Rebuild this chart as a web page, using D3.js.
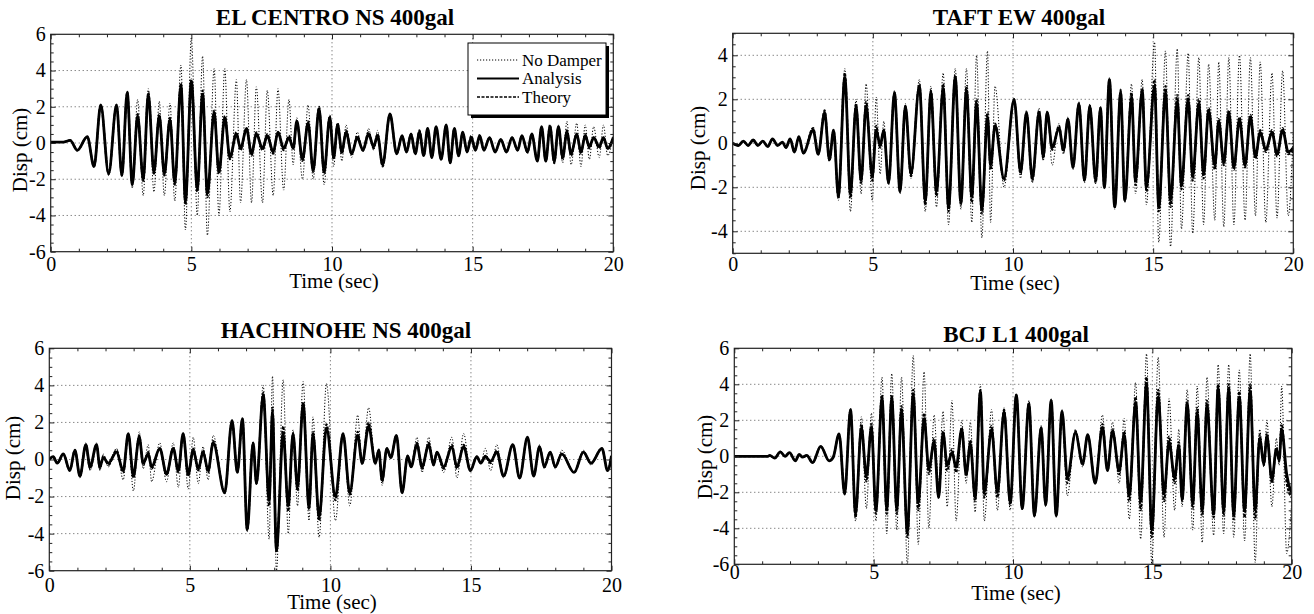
<!DOCTYPE html>
<html>
<head>
<meta charset="utf-8">
<script src="https://cdn.jsdelivr.net/npm/d3@7"></script>
<style>
  body { margin: 0; background: #fff; }
  svg text { font-family: "Liberation Serif", "Times New Roman", serif; fill: #000; }
</style>
</head>
<body>
<svg id="chart" width="1314" height="614"></svg>
<script>
// ---------- shared tick labels ----------
const timeTicks = [0, 5, 10, 15, 20];
const dispTicks6 = [-6, -4, -2, 0, 2, 4, 6];
const dispTicks5 = [-4, -2, 0, 2, 4];
const seriesNames = ["No Damper", "Analysis", "Theory"];

// ---------- EL CENTRO NS 400gal (response peaks, sec / cm) ----------
const elTime = [0,0.45,0.69,0.95,1.3,1.54,1.78,2.06,2.34,2.53, 2.72,2.9,3.09,3.29,3.47,3.67,3.86,4.04,4.24,4.41, 4.63,4.79,5.0,5.21,5.4,5.57,5.81,5.98,6.19,6.37, 6.6,6.75,6.96,7.14,7.31,7.53,7.7,7.91,8.08,8.28, 8.47,8.62,8.75,8.95,9.15,9.33,9.54,9.72,9.92,10.06, 10.2,10.35,10.5,10.7,10.9,11.1,11.3,11.48,11.62,11.8, 12.06,12.3,12.49,12.65,12.81,12.96,13.11,13.26,13.4,13.55, 13.7,13.88,14.06,14.2,14.35,14.5,14.65,14.8,14.95,15.1, 15.25,15.4,15.6,15.8,16.0,16.2,16.4,16.6,16.75,16.95, 17.1,17.3,17.45,17.6,17.75,17.9,18.05,18.2,18.35,18.5, 18.7,18.85,19.0,19.15,19.3,19.5,19.65,19.8,20.0];
const elNoDamper = [0.05,0.05,0.15,-0.4,0.35,-1.3,2.1,-1.8,2.1,-1.8, 2.8,-2.5,2.4,-2.9,3.0,-2.7,2.3,-2.9,2.2,-3.2, 4.3,-4.8,5.8,-4.0,4.8,-5.1,4.1,-4.0,4.1,-3.8, 3.5,-3.3,3.5,-3.3,3.1,-3.3,2.9,-2.9,3.0,-2.6, 2.4,-1.2,1.4,-2.0,2.1,-2.0,1.8,-2.3,1.5,-1.3, 1.1,-1.0,1.0,-0.8,0.6,-0.5,0.8,-0.4,0.7,-1.2, 1.6,-0.6,0.4,-0.5,0.5,-0.6,0.7,-0.7,0.8,-0.8, 0.9,-0.9,1.0,-1.1,0.8,-0.8,0.6,-0.5,0.4,-0.4, 0.5,-0.4,0.3,-0.4,0.2,-0.4,0.3,-0.4,0.4,-0.6, 0.5,-1.0,0.9,-1.0,1.0,-1.2,1.0,-1.1,1.2,-1.2, 1.1,-1.3,1.0,-0.9,0.9,-0.8,1.0,-0.7,0.5];
const elAnalysis = [0.05,0.05,0.15,-0.4,0.35,-1.3,2.1,-1.7,2.1,-1.8, 2.8,-2.3,1.5,-2.0,2.7,-1.6,1.5,-1.7,1.3,-2.2, 3.2,-3.2,3.4,-2.5,2.7,-2.8,1.7,-1.6,1.4,-0.8, 0.5,-0.3,0.8,-0.6,0.5,-0.3,0.4,-0.5,0.6,-0.3, 0.3,-0.3,1.2,-0.9,1.1,-1.5,1.9,-1.6,1.4,-0.8, 1.0,-0.5,0.6,-0.6,0.3,-0.4,0.5,-0.2,0.4,-1.2, 1.6,-0.6,0.4,-0.5,0.5,-0.6,0.6,-0.7,0.8,-0.8, 0.9,-0.9,1.0,-1.1,0.8,-0.7,0.6,-0.5,0.3,-0.4, 0.4,-0.4,0.3,-0.5,0.2,-0.5,0.3,-0.4,0.4,-0.5, 0.5,-1.0,0.9,-1.0,0.9,-1.0,0.9,-0.8,0.6,-0.6, 0.5,-0.5,0.4,-0.2,0.3,-0.2,0.3,-0.3,0.3];
const elTheory = [0.05,0.05,0.15,-0.4,0.35,-1.3,2.1,-1.7,2.1,-1.8, 2.8,-2.3,1.6,-2.1,2.8,-1.7,1.6,-1.8,1.4,-2.3, 3.3,-3.4,3.5,-2.7,2.9,-3.0,1.8,-1.7,1.5,-0.9, 0.6,-0.4,0.8,-0.7,0.6,-0.4,0.5,-0.6,0.6,-0.4, 0.4,-0.3,1.2,-1.0,1.2,-1.6,2.0,-1.7,1.5,-0.9, 1.1,-0.6,0.7,-0.6,0.4,-0.4,0.6,-0.3,0.5,-1.3, 1.6,-0.6,0.4,-0.5,0.5,-0.6,0.7,-0.7,0.8,-0.8, 0.9,-0.9,1.0,-1.1,0.8,-0.7,0.6,-0.5,0.4,-0.4, 0.4,-0.4,0.3,-0.5,0.2,-0.5,0.3,-0.4,0.4,-0.5, 0.5,-1.0,0.9,-1.0,1.0,-1.1,0.9,-0.9,0.7,-0.7, 0.5,-0.6,0.5,-0.3,0.3,-0.3,0.3,-0.3,0.3];

// ---------- TAFT EW 400gal ----------
const taftTime = [0,0.2,0.38,0.55,0.73,0.9,1.07,1.25,1.42,1.6, 1.78,1.9,2.05,2.2,2.36,2.52,2.87,3.05,3.28,3.45, 3.6,3.77,4.0,4.2,4.4,4.58,4.76,4.98,5.12,5.26, 5.39,5.56,5.77,5.97,6.16,6.36,6.66,6.87,7.07,7.27, 7.51,7.7,7.94,8.14,8.34,8.53,8.7,8.89,9.09,9.2, 9.36,9.68,10.04,10.27,10.48,10.69,10.93,11.08,11.22,11.4, 11.64,11.8,11.96,12.14,12.35,12.55,12.74,12.95,13.12,13.26, 13.44,13.63,13.84,13.99,14.23,14.37,14.61,14.76,15.05,15.2, 15.44,15.62,15.86,16.01,16.25,16.41,16.63,16.8,16.98,17.2, 17.34,17.52,17.7,17.88,18.08,18.28,18.47,18.65,18.82,19.02, 19.24,19.42,19.62,19.82,20.0];
const taftNoDamper = [0,-0.1,0.1,-0.1,0.15,-0.1,0.1,-0.15,0.2,-0.1, 0.05,-0.2,0.2,-0.4,0.3,-0.45,0.7,-0.5,1.4,-0.8, 0.6,-2.6,3.4,-3.1,2.0,-2.3,2.7,-2.6,2.1,-1.4, 1.0,-1.9,2.4,-2.3,1.8,-1.6,2.9,-3.1,2.6,-2.9, 3.2,-3.7,3.4,-3.0,3.4,-3.6,4.0,-4.3,4.2,-3.6, 2.6,-2.0,2.0,-1.6,1.5,-1.8,1.6,-0.8,1.5,-1.0, 0.9,-0.5,1.2,-1.2,1.9,-1.8,1.8,-1.8,1.7,-2.1, 3.0,-3.0,2.5,-2.7,2.7,-2.3,2.9,-2.8,4.6,-4.5, 4.2,-4.7,4.3,-3.9,4.1,-4.1,3.9,-3.7,3.6,-3.5, 3.7,-3.8,3.9,-3.7,4.0,-3.5,3.9,-3.3,3.7,-3.6, 3.2,-3.4,3.3,-3.3,0.5];
const taftAnalysis = [0,-0.1,0.1,-0.1,0.15,-0.1,0.1,-0.15,0.2,-0.1, 0.05,-0.2,0.2,-0.4,0.3,-0.45,0.6,-0.5,1.4,-0.75, 0.6,-2.4,3.0,-2.3,1.7,-1.7,1.7,-1.5,0.6,-0.1, 0.6,-1.8,2.3,-2.2,1.7,-1.4,2.6,-2.6,2.3,-2.2, 2.5,-2.9,3.0,-2.7,2.4,-2.4,1.8,-3.0,1.2,-1.0, 0.8,-1.6,2.0,-1.3,1.4,-1.6,1.4,-0.6,1.4,-0.2, 0.7,-0.3,1.1,-1.1,1.8,-1.7,1.7,-1.7,1.6,-2.0, 2.9,-2.9,2.3,-2.6,2.1,-1.7,2.4,-2.0,2.6,-2.9, 2.3,-2.6,1.9,-1.9,2.0,-1.5,1.8,-1.4,1.5,-1.0, 1.0,-0.9,1.4,-1.1,1.1,-1.0,1.2,-0.6,0.5,-0.3, 0.5,-0.5,0.6,-0.4,-0.2];
const taftTheory = [0,-0.1,0.1,-0.1,0.15,-0.1,0.1,-0.15,0.2,-0.1, 0.05,-0.2,0.2,-0.4,0.3,-0.45,0.7,-0.5,1.5,-0.8, 0.6,-2.5,3.2,-2.5,1.8,-1.8,1.9,-1.7,0.8,-0.2, 0.6,-1.8,2.3,-2.2,1.7,-1.5,2.7,-2.8,2.4,-2.4, 2.7,-3.1,3.1,-2.8,2.6,-2.7,2.0,-3.2,1.4,-1.2, 0.9,-1.7,2.0,-1.4,1.4,-1.7,1.5,-0.7,1.4,-0.3, 0.8,-0.4,1.1,-1.1,1.8,-1.7,1.7,-1.8,1.6,-2.0, 2.9,-2.9,2.4,-2.6,2.3,-1.9,2.5,-2.2,2.9,-3.1, 2.6,-2.9,2.2,-2.1,2.2,-1.7,2.0,-1.6,1.6,-1.2, 1.1,-1.0,1.5,-1.2,1.2,-1.1,1.3,-0.7,0.6,-0.4, 0.6,-0.6,0.7,-0.5,-0.3];

// ---------- HACHINOHE NS 400gal ----------
const hachTime = [0,0.14,0.28,0.5,0.73,0.91,1.09,1.3,1.45,1.68, 1.8,1.92,2.1,2.39,2.63,2.81,2.99,3.2,3.34,3.52, 3.64,3.93,4.17,4.41,4.59,4.76,4.94,5.12,5.3,5.47, 5.65,5.83,6.24,6.5,6.69,6.87,7.04,7.25,7.37,7.61, 7.82,7.94,8.08,8.32,8.5,8.67,8.83,9.03,9.24,9.38, 9.6,9.86,10.18,10.45,10.69,10.97,11.13,11.36,11.6,11.72, 11.84,12.01,12.15,12.35,12.55,12.75,12.87,13.08,13.26,13.5, 13.67,13.79,14.03,14.32,14.5,14.74,14.98,15.21,15.35,15.51, 15.7,15.92,16.16,16.49,16.73,17.01,17.23,17.44,17.61,17.82, 18.0,18.23,18.67,19.0,19.27,19.66,19.86,20.0];
const hachNoDamper = [0,0.15,-0.25,0.3,-0.6,0.5,-1.0,0.9,-0.6,0.9, -0.6,0.3,-0.4,0.6,-1.1,1.4,-1.7,1.5,-0.5,0.8, -1.2,0.9,-1.2,0.9,-1.5,1.4,-1.6,1.2,-1.3,0.7, -1.1,1.3,-1.8,2.1,-0.7,2.2,-3.9,0.9,-1.2,4.0, -4.3,4.5,-6.0,4.3,-4.0,1.6,-2.5,4.2,-3.3,2.3, -4.2,4.1,-3.3,1.4,-2.5,2.4,-0.3,2.8,-0.3,0.6, -1.4,0.6,0.1,1.3,-1.8,0.2,-0.4,1.2,-0.7,1.2, -0.3,0.4,-0.7,1.2,-1.0,1.4,-0.6,0.2,-0.2,0.6, -0.6,0.8,-1.0,0.8,-1.0,1.2,-0.9,0.8,-0.5,0.4, -0.5,0.5,-0.7,0.5,-0.3,0.6,-0.6,0.2];
const hachAnalysis = [0,0.15,-0.2,0.3,-0.6,0.5,-0.9,0.8,-0.4,0.8, -0.4,0.1,-0.2,0.4,-0.6,1.4,-0.9,1.2,-0.2,0.3, -0.4,0.6,-0.8,0.6,-0.6,1.4,-0.8,0.5,-0.5,0.4, -0.6,0.9,-1.8,2.1,-0.7,2.2,-3.8,0.9,-1.3,3.5, -2.2,2.5,-4.9,1.4,-2.5,1.4,-1.5,3.0,-2.6,1.4, -3.1,1.7,-2.0,1.4,-1.8,1.3,-0.2,1.8,-0.2,0.5, -1.1,0.6,0.1,1.3,-1.8,0.2,-0.4,0.8,-0.4,0.8, -0.3,0.4,-0.4,0.7,-0.4,0.7,-0.6,0.15,-0.2,0.15, -0.1,0.4,-0.9,0.8,-1.0,1.2,-0.9,0.7,-0.4,0.4, -0.4,0.3,-0.7,0.4,-0.2,0.6,-0.6,0.2];
const hachTheory = [0,0.15,-0.2,0.3,-0.6,0.5,-0.9,0.8,-0.5,0.8, -0.5,0.2,-0.3,0.5,-0.7,1.4,-1.0,1.3,-0.3,0.4, -0.5,0.6,-0.8,0.6,-0.7,1.4,-0.9,0.6,-0.6,0.5, -0.7,1.0,-1.8,2.1,-0.7,2.2,-3.8,0.9,-1.3,3.6, -2.5,2.8,-5.0,1.8,-2.8,1.4,-1.7,3.1,-2.7,1.5, -3.3,1.9,-2.2,1.4,-1.9,1.5,-0.2,2.0,-0.2,0.5, -1.2,0.6,0.1,1.3,-1.8,0.2,-0.4,0.9,-0.5,0.9, -0.3,0.4,-0.5,0.8,-0.5,0.8,-0.6,0.15,-0.2,0.2, -0.2,0.5,-0.9,0.8,-1.0,1.2,-0.9,0.7,-0.4,0.4, -0.4,0.3,-0.7,0.4,-0.2,0.6,-0.6,0.2];

// ---------- BCJ L1 400gal ----------
const bcjTime = [0,1.2,1.27,1.45,1.65,1.82,1.98,2.19,2.33,2.45, 2.6,2.81,3.1,3.4,3.55,3.76,3.96,4.17,4.35,4.56, 4.74,4.92,5.08,5.3,5.47,5.65,5.83,6.0,6.21,6.42, 6.6,6.81,6.98,7.17,7.33,7.49,7.64,7.81,7.96,8.16, 8.32,8.47,8.64,8.83,8.97,9.23,9.44,9.68,9.9,10.12, 10.33,10.57,10.77,11.01,11.17,11.37,11.55,11.76,11.95,12.24, 12.5,12.68,12.95,13.21,13.39,13.57,13.81,13.99,14.17,14.4, 14.58,14.79,14.98,15.21,15.42,15.6,15.8,15.95,16.07,16.25, 16.45,16.61,16.79,16.96,17.2,17.36,17.56,17.74,17.92,18.12, 18.31,18.51,18.69,18.85,19.0,19.11,19.29,19.45,19.55,19.64, 19.82,20.0];
const bcjNoDamper = [0,0,0.05,-0.1,0.25,0,0.2,-0.25,0.1,-0.05, 0.05,-0.35,0.55,-0.25,-0.05,1.25,-2.1,2.6,-3.6,2.2, -2.9,2.4,-3.6,4.4,-4.3,4.6,-4.1,4.4,-6.0,5.6, -4.9,4.7,-4.0,2.3,-1.5,2.5,-2.8,3.1,-3.6,2.0, -1.5,1.9,-3.1,4.0,-3.6,2.6,-3.0,2.7,-3.0,3.5, -3.0,3.1,-3.4,1.7,-2.8,3.2,-3.4,2.6,-2.2,1.5, -0.6,1.2,-1.5,2.3,-0.8,1.9,-1.5,2.1,-3.5,4.1, -4.6,5.7,-6.0,5.5,-4.5,3.2,-3.0,1.5,-2.8,3.7, -4.1,3.9,-4.8,4.4,-4.4,5.1,-4.3,5.1,-4.5,4.8, -4.7,5.7,-5.9,1.5,-0.6,2.0,-2.8,1.0,-0.5,3.9, -5.4,-2.5];
const bcjAnalysis = [0,0,0.05,-0.1,0.25,0,0.2,-0.25,0.1,-0.05, 0.05,-0.35,0.55,-0.25,-0.05,1.25,-2.1,2.6,-3.2,1.6, -1.1,1.6,-3.0,3.2,-2.9,3.2,-2.9,2.5,-4.2,3.4, -2.6,2.1,-0.7,0.8,-2.3,1.3,-0.5,0.2,-0.6,1.5, -1.0,0.7,-2.3,3.6,-2.0,1.5,-2.0,2.5,-2.6,3.4, -2.9,2.9,-3.3,1.6,-2.7,3.1,-3.3,2.5,-1.2,1.3, -0.4,1.2,-1.5,1.6,-0.8,1.4,-0.8,1.2,-2.2,3.0, -2.5,4.0,-4.1,3.3,-2.1,0.8,-1.2,0.6,-2.4,2.9, -2.6,2.4,-3.0,2.8,-3.2,3.8,-3.0,3.7,-3.2,3.3, -3.0,3.6,-3.0,1.0,-0.4,1.1,-1.3,0.4,-0.2,1.5, -1.0,-2.1];
const bcjTheory = [0,0,0.05,-0.1,0.25,0,0.2,-0.25,0.1,-0.05, 0.05,-0.35,0.55,-0.25,-0.05,1.25,-2.1,2.6,-3.4,1.8, -1.4,1.8,-3.2,3.4,-3.2,3.4,-3.2,2.8,-4.5,3.7, -3.0,2.4,-1.0,1.0,-2.3,1.4,-0.8,0.4,-0.9,1.6, -1.1,0.9,-2.5,3.7,-2.3,1.7,-2.3,2.6,-2.7,3.4, -2.9,3.0,-3.3,1.6,-2.7,3.1,-3.3,2.5,-1.5,1.4, -0.5,1.2,-1.5,1.8,-0.8,1.5,-1.0,1.4,-2.5,3.3, -3.0,4.4,-4.5,3.7,-2.5,1.1,-1.5,0.8,-2.5,3.1, -2.9,2.7,-3.3,3.1,-3.4,4.0,-3.3,4.0,-3.5,3.6, -3.4,4.0,-3.5,1.2,-0.5,1.3,-1.5,0.5,-0.3,1.8, -1.5,-2.3];

// ---------- panel layout ----------
const panels = [
  { title: "EL CENTRO NS 400gal", time: elTime, noDamper: elNoDamper, analysis: elAnalysis, theory: elTheory,
    yDomain: [-6, 6], yTicks: dispTicks6,
    box: { left: 50.7, right: 613.3, top: 34.3, bottom: 251.7 },
    titleX: 335, titleY: 25, xPad: 5, timeX: 334, timeY: 288, dispX: 20, dispY: 150, legend: true },
  { title: "TAFT EW 400gal", time: taftTime, noDamper: taftNoDamper, analysis: taftAnalysis, theory: taftTheory,
    yDomain: [-5, 5], yTicks: dispTicks5,
    box: { left: 732.7, right: 1293.3, top: 33.3, bottom: 253.3 },
    titleX: 1019, titleY: 25, xPad: 3, timeX: 1015, timeY: 290, dispX: 698, dispY: 148, legend: false },
  { title: "HACHINOHE NS 400gal", time: hachTime, noDamper: hachNoDamper, analysis: hachAnalysis, theory: hachTheory,
    yDomain: [-6, 6], yTicks: dispTicks6,
    box: { left: 49.3, right: 611.5, top: 348.3, bottom: 570.7 },
    titleX: 346, titleY: 338, xPad: 7, timeX: 332, timeY: 609, dispX: 13, dispY: 458, legend: false },
  { title: "BCJ L1 400gal", time: bcjTime, noDamper: bcjNoDamper, analysis: bcjAnalysis, theory: bcjTheory,
    yDomain: [-6, 6], yTicks: dispTicks6,
    box: { left: 734.3, right: 1291.7, top: 348.3, bottom: 564.3 },
    titleX: 1016, titleY: 341.7, xPad: 0, timeX: 1016, timeY: 600, dispX: 705, dispY: 457, legend: false }
];

const styles = {
  noDamper: { width: 1, dash: "1.2,1.8" },
  theory:   { width: 2, dash: "3,1.5" },
  analysis: { width: 2.8, dash: null }
};

const serif = "'Liberation Serif','Times New Roman',serif";
const svg = d3.select("#chart");
const defs = svg.append("defs");

function styleAxisText(sel, size) {
  sel.attr("font-family", null).attr("font-size", null);
  sel.selectAll("text")
    .style("font-family", serif)
    .style("font-size", size + "px")
    .attr("fill", "#000");
  sel.selectAll(".domain").remove();
  sel.selectAll(".tick line").attr("stroke", "#222").attr("stroke-width", 1);
}

panels.forEach((p, i) => {
  const b = p.box;
  const x = d3.scaleLinear().domain([0, 20]).range([b.left, b.right]);
  const y = d3.scaleLinear().domain(p.yDomain).range([b.bottom, b.top]);
  const g = svg.append("g");

  // dotted grid at the major ticks
  const gridX = timeTicks.filter(v => v > 0 && v < 20);
  const gridY = p.yTicks.filter(v => v > p.yDomain[0] && v < p.yDomain[1]);
  g.append("g").selectAll("line").data(gridX).join("line")
    .attr("x1", d => x(d)).attr("x2", d => x(d))
    .attr("y1", b.top).attr("y2", b.bottom)
    .attr("stroke", "#555").attr("stroke-width", 1).attr("stroke-dasharray", "1,3");
  g.append("g").selectAll("line").data(gridY).join("line")
    .attr("x1", b.left).attr("x2", b.right)
    .attr("y1", d => y(d)).attr("y2", d => y(d))
    .attr("stroke", "#555").attr("stroke-width", 1).attr("stroke-dasharray", "1,3");

  // response traces
  defs.append("clipPath").attr("id", "plot-clip-" + i)
    .append("rect").attr("x", b.left).attr("y", b.top)
    .attr("width", b.right - b.left).attr("height", b.bottom - b.top);
  const line = d3.line().x(d => x(d[0])).y(d => y(d[1])).curve(d3.curveMonotoneX);
  const plot = g.append("g").attr("clip-path", `url(#plot-clip-${i})`);
  ["noDamper", "theory", "analysis"].forEach(key => {
    const st = styles[key];
    plot.append("path")
      .datum(d3.zip(p.time, p[key]))
      .attr("d", line)
      .attr("fill", "none")
      .attr("stroke", "#000")
      .attr("stroke-width", st.width)
      .attr("stroke-linejoin", "round")
      .attr("stroke-dasharray", st.dash);
  });

  // axes: ticks point inward on all four sides
  const minorX = d3.range(0, 20.001, 1).filter(v => !timeTicks.includes(v));
  const minorY = d3.range(p.yDomain[0], p.yDomain[1] + 0.001, 0.5).filter(v => !p.yTicks.includes(v));

  const bottom = g.append("g").attr("transform", `translate(0,${b.bottom})`)
    .call(d3.axisBottom(x).tickValues(timeTicks).tickSize(-5).tickSizeOuter(0).tickPadding(p.xPad).tickFormat(d => String(d)));
  styleAxisText(bottom, 20);
  const bottomMinor = g.append("g").attr("transform", `translate(0,${b.bottom})`)
    .call(d3.axisBottom(x).tickValues(minorX).tickSize(-3).tickSizeOuter(0).tickFormat(""));
  styleAxisText(bottomMinor, 20);
  const top = g.append("g").attr("transform", `translate(0,${b.top})`)
    .call(d3.axisTop(x).tickValues(timeTicks).tickSize(-5).tickSizeOuter(0).tickFormat(""));
  styleAxisText(top, 20);
  const topMinor = g.append("g").attr("transform", `translate(0,${b.top})`)
    .call(d3.axisTop(x).tickValues(minorX).tickSize(-3).tickSizeOuter(0).tickFormat(""));
  styleAxisText(topMinor, 20);

  const left = g.append("g").attr("transform", `translate(${b.left},0)`)
    .call(d3.axisLeft(y).tickValues(p.yTicks).tickSize(-5).tickSizeOuter(0).tickPadding(5).tickFormat(d => String(d)));
  styleAxisText(left, 20);
  const leftMinor = g.append("g").attr("transform", `translate(${b.left},0)`)
    .call(d3.axisLeft(y).tickValues(minorY).tickSize(-3).tickSizeOuter(0).tickFormat(""));
  styleAxisText(leftMinor, 20);
  const right = g.append("g").attr("transform", `translate(${b.right},0)`)
    .call(d3.axisRight(y).tickValues(p.yTicks).tickSize(-5).tickSizeOuter(0).tickFormat(""));
  styleAxisText(right, 20);
  const rightMinor = g.append("g").attr("transform", `translate(${b.right},0)`)
    .call(d3.axisRight(y).tickValues(minorY).tickSize(-3).tickSizeOuter(0).tickFormat(""));
  styleAxisText(rightMinor, 20);

  // frame
  g.append("rect")
    .attr("x", b.left).attr("y", b.top)
    .attr("width", b.right - b.left).attr("height", b.bottom - b.top)
    .attr("fill", "none").attr("stroke", "#222").attr("stroke-width", 1.2);

  // titles and axis names
  g.append("text").attr("x", p.titleX).attr("y", p.titleY)
    .attr("text-anchor", "middle").attr("font-size", 23).attr("font-weight", "bold")
    .text(p.title);
  g.append("text").attr("x", p.timeX).attr("y", p.timeY)
    .attr("text-anchor", "middle").attr("font-size", 21)
    .text("Time (sec)");
  g.append("text")
    .attr("transform", `translate(${p.dispX},${p.dispY}) rotate(-90)`)
    .attr("text-anchor", "middle").attr("dominant-baseline", "central").attr("font-size", 21)
    .text("Disp (cm)");

  // legend
  if (p.legend) {
    const lx = 468, ly = 43, lw = 138, lh = 72;
    g.append("rect").attr("x", lx + 3).attr("y", ly + 3).attr("width", lw).attr("height", lh).attr("fill", "#000");
    g.append("rect").attr("x", lx).attr("y", ly).attr("width", lw).attr("height", lh)
      .attr("fill", "#fff").attr("stroke", "#000").attr("stroke-width", 1);
    const keys = ["noDamper", "analysis", "theory"];
    keys.forEach((k, j) => {
      const yy = ly + 17 + j * 18.5;
      const st = styles[k];
      g.append("line").attr("x1", lx + 9).attr("x2", lx + 51).attr("y1", yy).attr("y2", yy)
        .attr("stroke", "#000").attr("stroke-width", k === "noDamper" ? 1 : (k === "analysis" ? 2 : 1.6))
        .attr("stroke-dasharray", st.dash);
      g.append("text").attr("x", lx + 54).attr("y", yy + 5.5).attr("font-size", 17)
        .text(seriesNames[j]);
    });
  }
});
</script>
</body>
</html>
